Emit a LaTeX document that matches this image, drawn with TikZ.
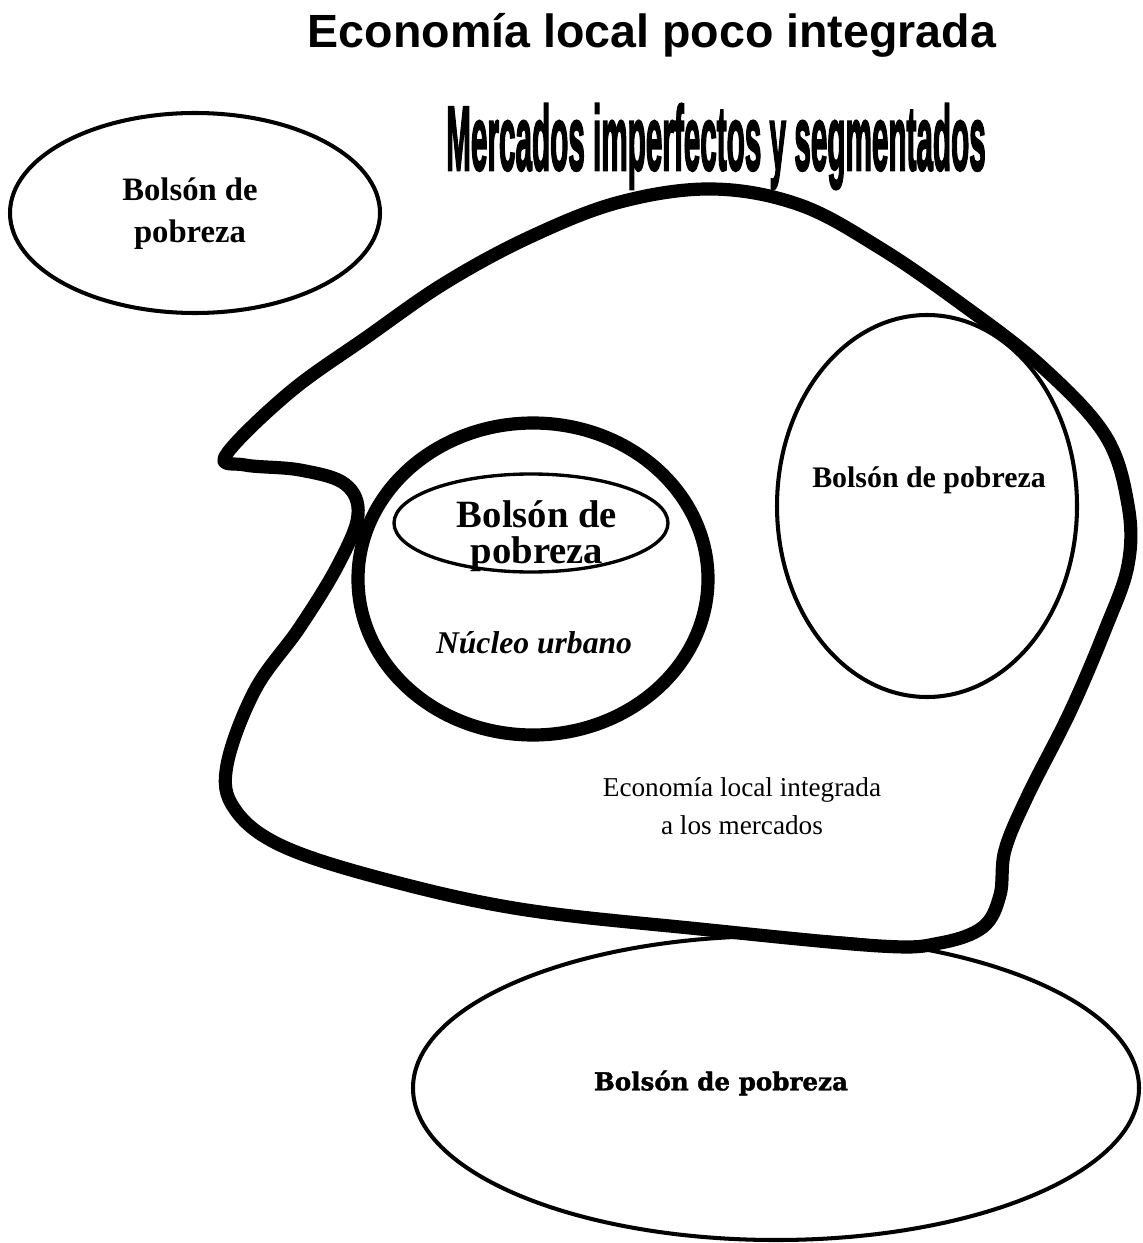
\documentclass[tikz,border=0pt]{standalone}
\usepackage{fontspec}
\setmainfont{Liberation Serif}
\newfontfamily\headfont{Liberation Sans}
\newfontfamily\marketfont[BoldFeatures={FakeBold=3}]{Liberation Sans}
\newfontfamily\heavyfont[BoldFeatures={FakeBold=1.5}]{DejaVu Serif}

\tikzset{pocket/.style={line width=2.3pt},
    inner pocket/.style={line width=1.9pt},
    thick border/.style={line width=7.5pt, line join=round},
    title label/.style={anchor=base, font=\headfont\bfseries\fontsize{26.5}{30}\selectfont},
    market label/.style={anchor=base, xscale=0.325, transform shape,
        font=\marketfont\bfseries\fontsize{52}{55}\selectfont},
    pocket label/.style={align=center, font=\bfseries\fontsize{17}{20}\selectfont},
    urban label/.style={font=\bfseries\itshape\fontsize{18}{20}\selectfont},
    economy label/.style={align=center, font=\fontsize{15.5}{21.5}\selectfont},
}

\begin{document}
\begin{tikzpicture}[x=0.02cm, y=-0.02cm]
    \useasboundingbox (0,0) rectangle (1142,1243);

    % titles
    \node[title label] (titulo) at (652,48) {Economía local poco integrada};
    \node[market label] (mercados) at (716,170) {Mercados imperfectos y segmentados};

    % integrated local economy
    \draw[thick border] plot[smooth cycle, tension=0.6] coordinates {
        (226,455) (290,392) (367,337) (445,283) (530,237) (620,202)
        (713,189) (800,205) (880,248) (960,303) (1040,365) (1105,435)
        (1128,505) (1128,565) (1105,630) (1070,712) (1028,795) (1005,850)
        (1000,895) (983,927) (940,943) (880,946) (700,929) (520,909)
        (380,878) (280,845) (234,808) (227,765) (255,690) (300,627)
        (338,565) (358,515) (345,484) (300,470) (245,465)};
    \node[economy label] (economia) at (742,806) {Economía local integrada\\a los mercados};

    % urban core
    \draw[thick border] (533,579) ellipse [x radius=175, y radius=156];
    \draw[inner pocket] (531,523) ellipse [x radius=137, y radius=49];
    \node[pocket label, font=\bfseries\fontsize{22}{20.4}\selectfont] (bolsonC) at (537,536) {Bolsón de\\pobreza};
    \node[urban label] (nucleo) at (534,643) {Núcleo urbano};

    % poverty pockets
    \draw[pocket] (195,213) ellipse [x radius=185, y radius=100];
    \node[pocket label, font=\bfseries\fontsize{18.6}{23.8}\selectfont] (bolsonA) at (190,214) {Bolsón de\\pobreza};
    \draw[pocket] (927,506) ellipse [x radius=150, y radius=191];
    \node[pocket label] (bolsonB) at (929,480) {Bolsón de pobreza};
    \draw[pocket] (776,1088) ellipse [x radius=363, y radius=152];
    \node[pocket label, font=\heavyfont\bfseries\fontsize{14}{16}\selectfont] (bolsonD) at (721,1083) {Bolsón de pobreza};
\end{tikzpicture}
\end{document}
